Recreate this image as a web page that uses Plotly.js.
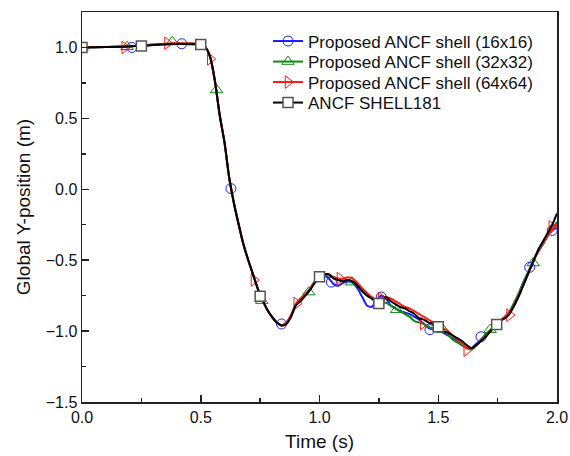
<!DOCTYPE html>
<html>
<head>
<meta charset="utf-8">
<script src="https://cdn.plot.ly/plotly-3.0.1.min.js"></script>
<style>html,body{margin:0;padding:0;background:#fff}#chart{width:570px;height:456px}</style>
</head>
<body>
<div id="chart"></div>
<script>
// time samples (s)
var time = [0, 0.1, 0.2, 0.3, 0.4, 0.5, 0.52, 0.54, 0.56, 0.58, 0.6, 0.62, 0.64, 0.66, 0.68, 0.7, 0.72, 0.74, 0.76, 0.78, 0.8, 0.82, 0.84, 0.86, 0.88, 0.9, 0.92, 0.94, 0.96, 0.98, 1.0, 1.02, 1.04, 1.06, 1.08, 1.1, 1.12, 1.14, 1.16, 1.18, 1.2, 1.22, 1.24, 1.26, 1.28, 1.3, 1.32, 1.34, 1.36, 1.38, 1.4, 1.42, 1.44, 1.46, 1.48, 1.5, 1.52, 1.54, 1.56, 1.58, 1.6, 1.62, 1.64, 1.66, 1.68, 1.7, 1.72, 1.74, 1.76, 1.78, 1.8, 1.82, 1.84, 1.86, 1.88, 1.9, 1.92, 1.94, 1.96, 1.98, 2.0];

var shell181 = [1.0, 1.003, 1.007, 1.018, 1.025, 1.02, 1.0, 0.93, 0.76, 0.52, 0.33, 0.08, -0.1, -0.25, -0.39, -0.5, -0.6, -0.7, -0.78, -0.85, -0.9, -0.94, -0.96, -0.95, -0.9, -0.82, -0.79, -0.75, -0.71, -0.66, -0.62, -0.6, -0.6, -0.63, -0.64, -0.65, -0.64, -0.65, -0.68, -0.72, -0.75, -0.77, -0.8, -0.79, -0.76, -0.79, -0.81, -0.83, -0.84, -0.86, -0.88, -0.91, -0.92, -0.94, -0.95, -0.97, -1.0, -1.01, -1.03, -1.05, -1.07, -1.1, -1.12, -1.1, -1.07, -1.04, -1.0, -0.96, -0.93, -0.91, -0.88, -0.82, -0.75, -0.67, -0.59, -0.51, -0.43, -0.37, -0.31, -0.25, -0.17];

var ancf16 = [1.0, 1.003, 1.007, 1.018, 1.025, 1.02, 1.0, 0.93, 0.76, 0.52, 0.33, 0.08, -0.1, -0.25, -0.39, -0.5, -0.6, -0.7, -0.78, -0.85, -0.9, -0.94, -0.96, -0.95, -0.89, -0.82, -0.78, -0.75, -0.71, -0.66, -0.62, -0.61, -0.63, -0.67, -0.68, -0.66, -0.65, -0.66, -0.7, -0.76, -0.82, -0.83, -0.78, -0.75, -0.77, -0.82, -0.84, -0.86, -0.87, -0.88, -0.9, -0.92, -0.95, -0.98, -0.99, -1.0, -1.01, -1.03, -1.05, -1.07, -1.1, -1.12, -1.12, -1.09, -1.06, -1.03, -1.0, -0.96, -0.93, -0.9, -0.87, -0.8, -0.73, -0.65, -0.58, -0.5, -0.44, -0.39, -0.33, -0.29, -0.27];

var ancf32 = [1.0, 1.003, 1.008, 1.02, 1.03, 1.02, 1.0, 0.93, 0.76, 0.52, 0.33, 0.08, -0.1, -0.25, -0.39, -0.5, -0.6, -0.7, -0.78, -0.85, -0.9, -0.94, -0.96, -0.94, -0.89, -0.81, -0.77, -0.74, -0.7, -0.65, -0.62, -0.6, -0.61, -0.62, -0.63, -0.64, -0.64, -0.655, -0.68, -0.71, -0.74, -0.77, -0.79, -0.8, -0.8, -0.82, -0.84, -0.86, -0.88, -0.9, -0.93, -0.94, -0.95, -0.97, -0.98, -0.99, -1.0, -1.02, -1.06, -1.08, -1.1, -1.12, -1.13, -1.1, -1.06, -1.02, -0.99, -0.95, -0.93, -0.9, -0.86, -0.8, -0.73, -0.65, -0.58, -0.51, -0.44, -0.39, -0.33, -0.28, -0.23];

var ancf64 = [1.0, 1.003, 1.008, 1.02, 1.03, 1.02, 1.0, 0.93, 0.76, 0.52, 0.33, 0.08, -0.1, -0.25, -0.39, -0.5, -0.6, -0.7, -0.78, -0.85, -0.9, -0.94, -0.96, -0.94, -0.89, -0.81, -0.77, -0.74, -0.7, -0.65, -0.62, -0.6, -0.6, -0.62, -0.63, -0.63, -0.62, -0.63, -0.66, -0.7, -0.73, -0.76, -0.78, -0.77, -0.76, -0.77, -0.79, -0.81, -0.83, -0.84, -0.86, -0.88, -0.9, -0.92, -0.94, -0.96, -0.98, -1.0, -1.03, -1.06, -1.09, -1.12, -1.12, -1.1, -1.07, -1.04, -1.0, -0.96, -0.93, -0.9, -0.87, -0.82, -0.75, -0.67, -0.59, -0.51, -0.44, -0.38, -0.33, -0.28, -0.25];

// symbol positions on each curve
var mk16T = [0, 0.21, 0.42, 0.627, 0.84, 1.05, 1.26, 1.465, 1.68, 1.885, 1.98];
var mk16Y = [1.0, 1.0, 1.026, 0.005, -0.95, -0.655, -0.76, -0.99, -1.04, -0.55, -0.29];
var mk32T = [0, 0.19, 0.38, 0.567, 0.757, 0.955, 1.136, 1.325, 1.52, 1.718, 1.9];
var mk32Y = [1.0, 1.005, 1.04, 0.70, -0.785, -0.725, -0.655, -0.85, -0.99, -0.99, -0.52];
var mk64T = [0, 0.18, 0.36, 0.54, 0.724, 0.904, 1.086, 1.26, 1.437, 1.62, 1.8, 1.978];
var mk64Y = [1.0, 1.0, 1.03, 0.92, -0.64, -0.805, -0.63, -0.77, -0.946, -1.134, -0.887, -0.266];
var mk181T = [0, 0.25, 0.5, 0.75, 1.0, 1.25, 1.5, 1.746];
var mk181Y = [1.0, 1.01, 1.02, -0.754, -0.617, -0.805, -0.97, -0.953];

var names = ['Proposed ANCF shell (16x16)', 'Proposed ANCF shell (32x32)', 'Proposed ANCF shell (64x64)', 'ANCF SHELL181'];
var colors = ['#1f1fff', '#108a10', '#ff1a1a', '#000000'];
var symbols = ['circle-open', 'triangle-up-open', 'triangle-right-open', 'square'];
var sizes = [10, 11, 11, 10];
var lineY = [ancf16, ancf32, ancf64, shell181];
var mkT = [mk16T, mk32T, mk64T, mk181T];
var mkY = [mk16Y, mk32Y, mk64Y, mk181Y];
var legendIds = ['legend', 'legend2', 'legend3', 'legend4'];

function markerStyle(i) {
  if (i === 3) return {symbol: 'square', size: sizes[i], color: '#ffffff', line: {color: '#555555', width: 1.5}};
  return {symbol: symbols[i], size: sizes[i], color: colors[i], line: {color: colors[i], width: 1}};
}

var traces = [];
for (var i = 0; i < 4; i++) {
  traces.push({x: time, y: lineY[i], type: 'scatter', mode: 'lines', line: {color: colors[i], width: 2, shape: 'spline', smoothing: 0.6}, showlegend: false, hoverinfo: 'skip'});
  traces.push({x: mkT[i], y: mkY[i], type: 'scatter', mode: 'markers', marker: markerStyle(i), showlegend: false, hoverinfo: 'skip'});
}
for (var j = 0; j < 4; j++) {
  traces.push({x: [null], y: [null], type: 'scatter', mode: 'lines+markers', name: names[j], legend: legendIds[j], line: {color: colors[j], width: 2}, marker: markerStyle(j)});
}

var fam = 'Liberation Sans, Arial, sans-serif';
var axisCommon = {
  showline: true, linecolor: '#222', linewidth: 1.5, mirror: true,
  ticks: 'inside', ticklen: 7, tickwidth: 1.5, tickcolor: '#222',
  showgrid: false, zeroline: false,
  tickfont: {family: fam, size: 16, color: '#111'}
};

function legendAt(yPx) {
  return {
    x: 0.3916, y: (402 - yPx) / 390, xanchor: 'left', yanchor: 'middle',
    bgcolor: 'rgba(255,255,255,0)', borderwidth: 0,
    font: {size: 17, family: fam, color: '#111'},
    tracegroupgap: 0, itemwidth: 30
  };
}

var layout = {
  width: 570, height: 456,
  margin: {l: 82, r: 13, t: 12, b: 54},
  paper_bgcolor: '#fff', plot_bgcolor: '#fff',
  font: {family: fam, color: '#111'},
  xaxis: Object.assign({}, axisCommon, {
    range: [0, 2], tick0: 0, dtick: 0.5, tickformat: '.1f',
    minor: {dtick: 0.25, ticks: 'inside', ticklen: 4, tickwidth: 1.5, tickcolor: '#222'},
    title: {text: 'Time (s)', font: {size: 19, family: fam}, standoff: 10}
  }),
  yaxis: Object.assign({}, axisCommon, {
    range: [-1.5, 1.25], tick0: -1.5, dtick: 0.5, tickformat: '.1f',
    minor: {dtick: 0.25, ticks: 'inside', ticklen: 4, tickwidth: 1.5, tickcolor: '#222'},
    title: {text: 'Global Y-position (m)', font: {size: 19, family: fam}, standoff: 10}
  }),
  legend: legendAt(41.5),
  legend2: legendAt(62),
  legend3: legendAt(82.5),
  legend4: legendAt(103),
  showlegend: true
};

Plotly.newPlot('chart', traces, layout, {displayModeBar: false, staticPlot: true});
</script>
</body>
</html>
